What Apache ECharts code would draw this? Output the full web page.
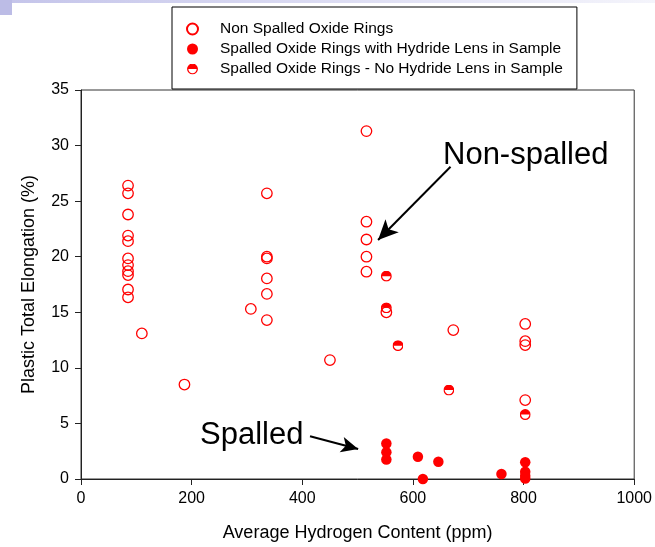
<!DOCTYPE html>
<html>
<head>
<meta charset="utf-8">
<script src="https://cdn.jsdelivr.net/npm/echarts@6/dist/echarts.min.js"></script>
<style>
  html, body { margin: 0; padding: 0; background: #fff; }
  #chart { width: 655px; height: 547px; }
</style>
</head>
<body>
<div id="chart"></div>
<script>
// hydrogen content (ppm) / plastic total elongation (%)
var nonSpalledX = [85, 85, 85, 85, 85, 85, 85, 85, 85, 85, 85, 110, 187, 307,
  336, 336, 336, 336, 336, 336, 450, 516, 516, 516, 516, 516, 552, 673,
  803, 803, 803, 803]
var nonSpalledY = [26.4, 25.7, 23.8, 21.9, 21.4, 19.85, 19.25, 18.7, 18.35, 17.05, 16.35, 13.1, 8.5, 15.3,
  25.7, 20.0, 19.85, 18.05, 16.65, 14.3, 10.7, 31.3, 23.15, 21.55, 20.0, 18.65, 15.0, 13.4,
  13.95, 12.4, 12.05, 7.1]

var hydrideX = [552, 552, 552, 609, 618, 646, 760, 803, 803, 803, 803]
var hydrideY = [3.2, 2.4, 1.75, 2.0, 0, 1.55, 0.45, 1.5, 0.65, 0.3, 0.05]

var noHydrideX = [552, 552, 573, 665, 803]
var noHydrideY = [18.25, 15.4, 12.0, 8.0, 5.8]

var seriesNames = [
  'Non Spalled Oxide Rings',
  'Spalled Oxide Rings with Hydride Lens in Sample',
  'Spalled Oxide Rings - No Hydride Lens in Sample'
]

// arrows: [from, to] in data units
var arrowNonSpalled = [[668, 28.1], [537, 21.5]]
var arrowSpalled = [[414, 3.85], [501, 2.7]]

var RED = '#ff0000'
var FONT = 'Liberation Sans, Arial, sans-serif'
// circle with the upper half filled
var HALF = 'image://data:image/svg+xml;utf8,' + encodeURIComponent(
  '<svg xmlns="http://www.w3.org/2000/svg" width="22" height="22" viewBox="0 0 22 22">' +
  '<path d="M1.4,11 A9.6,9.6 0 0 1 20.6,11 Z" fill="#ff0000"/>' +
  '<circle cx="11" cy="11" r="9.6" fill="none" stroke="#ff0000" stroke-width="2.6"/>' +
  '</svg>')

function zip(xs, ys) {
  return xs.map(function (x, i) { return [x, ys[i]] })
}

var chart = echarts.init(document.getElementById('chart'))

chart.setOption({
  animation: false,
  backgroundColor: '#fff',
  textStyle: { fontFamily: FONT },
  graphic: [
    {
      type: 'rect', left: 0, top: 0, silent: true,
      shape: { width: 655, height: 3 },
      style: {
        fill: new echarts.graphic.LinearGradient(0, 0, 1, 0, [
          { offset: 0, color: '#c4c4ea' },
          { offset: 1, color: '#f4f4fb' }
        ])
      }
    },
    { type: 'rect', left: 0, top: 0, silent: true, shape: { width: 12, height: 15 }, style: { fill: '#bcbce6' } },
    {
      type: 'text', left: 443, top: 140, silent: true,
      style: { text: 'Non-spalled', fill: '#000', font: '31px ' + FONT }
    },
    {
      type: 'text', left: 200, top: 420, silent: true,
      style: { text: 'Spalled', fill: '#000', font: '31px ' + FONT }
    }
  ],
  legend: {
    orient: 'vertical',
    left: 172,
    top: 7,
    padding: [14, 14, 12, 14],
    itemWidth: 11,
    itemHeight: 11,
    itemGap: 4,
    borderColor: '#000',
    borderWidth: 1,
    backgroundColor: '#fff',
    textStyle: { fontSize: 15.5, color: '#000', lineHeight: 15.5, padding: [0, 0, 0, 17] },
    data: seriesNames
  },
  grid: {
    left: 81,
    right: 17,
    top: 90,
    bottom: 68,
    show: true,
    borderColor: '#333',
    borderWidth: 1
  },
  xAxis: {
    type: 'value',
    min: 0,
    max: 1000,
    interval: 200,
    name: 'Average Hydrogen Content (ppm)',
    nameLocation: 'middle',
    nameGap: 45,
    nameTextStyle: { fontSize: 18, color: '#000' },
    axisLine: { show: true, lineStyle: { color: '#222', width: 1 } },
    axisTick: { show: true, inside: false, length: 6, lineStyle: { color: '#222' } },
    axisLabel: { fontSize: 16, color: '#000', margin: 12, formatter: function (v) { return String(v) } },
    splitLine: { show: false }
  },
  yAxis: {
    type: 'value',
    min: 0,
    max: 35,
    interval: 5,
    name: 'Plastic Total Elongation (%)',
    nameLocation: 'middle',
    nameGap: 43,
    nameTextStyle: { fontSize: 18, color: '#000' },
    axisLine: { show: true, lineStyle: { color: '#222', width: 1 } },
    axisTick: { show: true, inside: false, length: 6, lineStyle: { color: '#222' } },
    axisLabel: { fontSize: 16, color: '#000', margin: 12 },
    splitLine: { show: false }
  },
  series: [
    {
      name: seriesNames[0],
      type: 'scatter',
      clip: false,
      symbol: 'circle',
      symbolSize: 10.5,
      itemStyle: { color: 'rgba(255,255,255,0)', borderColor: RED, borderWidth: 1.3, opacity: 1 },
      data: zip(nonSpalledX, nonSpalledY),
      markLine: {
        silent: true,
        symbol: ['none', 'arrow'],
        symbolSize: [14, 20],
        label: { show: false },
        lineStyle: { color: '#000', width: 2, type: 'solid' },
        data: [
          [{ coord: arrowNonSpalled[0] }, { coord: arrowNonSpalled[1] }]
        ]
      }
    },
    {
      name: seriesNames[1],
      type: 'scatter',
      clip: false,
      symbol: 'circle',
      symbolSize: 10.5,
      itemStyle: { color: RED, opacity: 1 },
      data: zip(hydrideX, hydrideY),
      markLine: {
        silent: true,
        symbol: ['none', 'arrow'],
        symbolSize: [12, 17],
        label: { show: false },
        lineStyle: { color: '#000', width: 2, type: 'solid' },
        data: [
          [{ coord: arrowSpalled[0] }, { coord: arrowSpalled[1] }]
        ]
      }
    },
    {
      name: seriesNames[2],
      type: 'scatter',
      clip: false,
      symbol: HALF,
      symbolSize: 11,
      itemStyle: { opacity: 1 },
      data: zip(noHydrideX, noHydrideY)
    }
  ]
})
</script>
</body>
</html>
